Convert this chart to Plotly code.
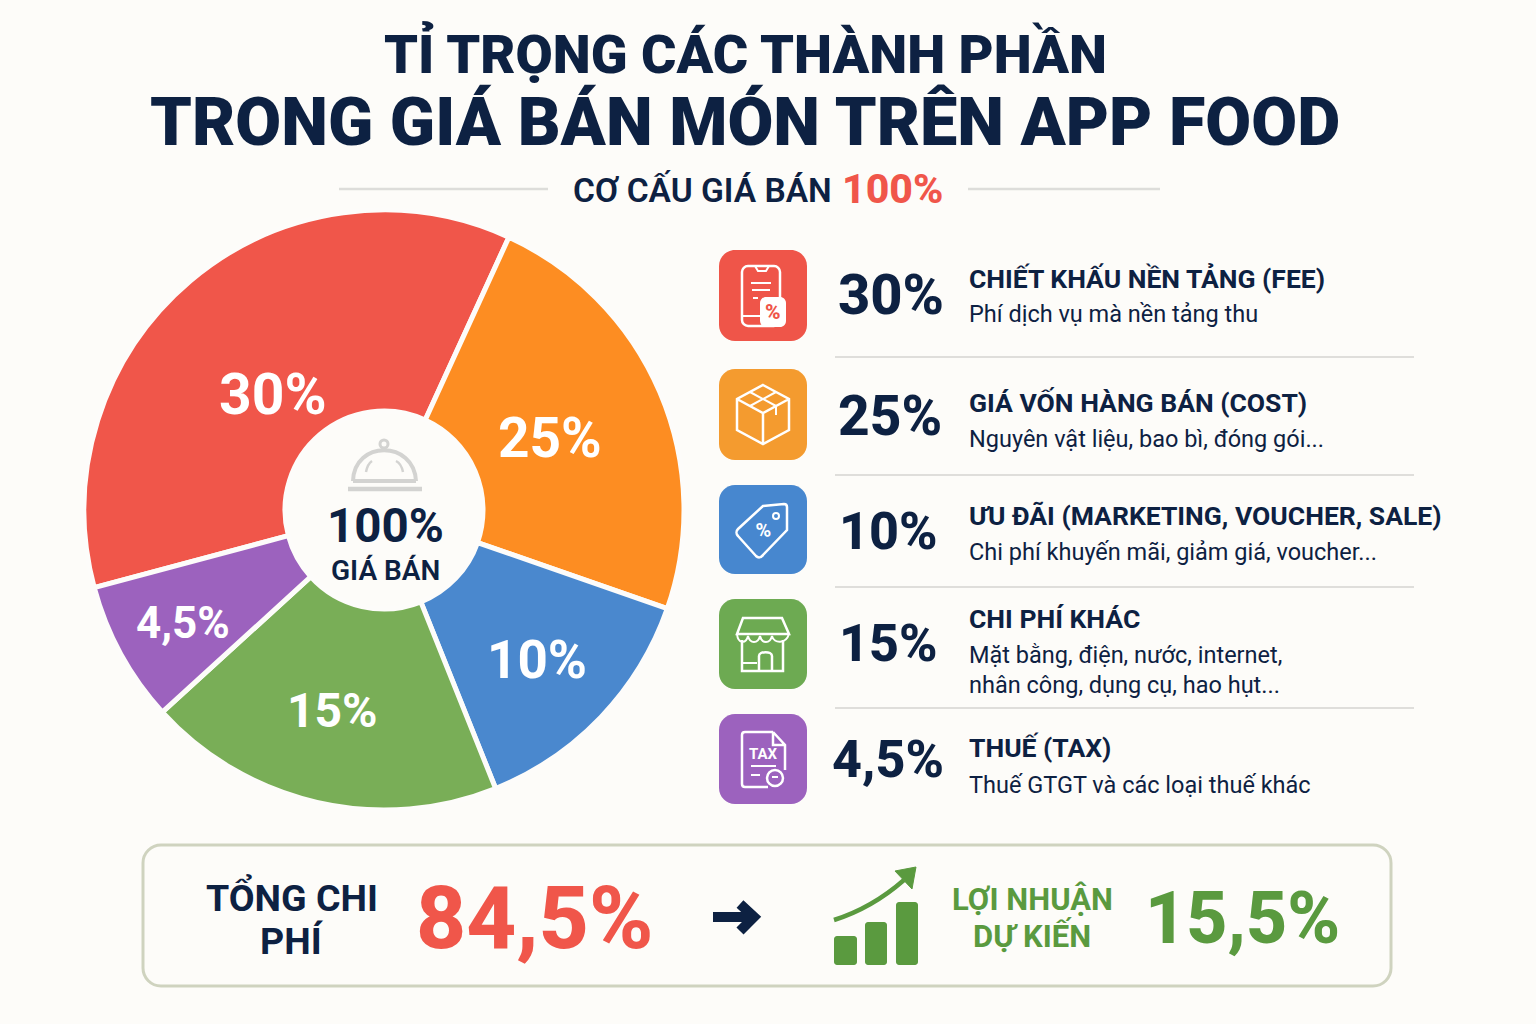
import re
import plotly.graph_objects as go

W, H = 1536, 1024
NAVY = "#0D2142"
RED = "#F0564A"
GREEN = "#5A9A3F"
FONT = "Roboto"

# slice shares as drawn in the picture (the printed labels do not add up to the drawn angles)
slice_labels = ["30%", "25%", "10%", "15%", "4,5%"]
slice_shares = [36.0, 23.5, 13.6, 19.3, 7.6]
slice_colors = ["#F0564A", "#FD8D22", "#4A88CE", "#79AE57", "#9C62BE"]
slice_text_x = [273, 550, 537, 332, 183]
slice_text_y = [394, 438, 660, 710, 623]
slice_text_size = [57, 55, 53, 48, 44]

row_pct = ["30%", "25%", "10%", "15%", "4,5%"]
row_titles = ["CHIẾT KHẤU NỀN TẢNG (FEE)", "GIÁ VỐN HÀNG BÁN (COST)",
              "ƯU ĐÃI (MARKETING, VOUCHER, SALE)", "CHI PHÍ KHÁC", "THUẾ (TAX)"]
row_desc = ["Phí dịch vụ mà nền tảng thu", "Nguyên vật liệu, bao bì, đóng gói...",
            "Chi phí khuyến mãi, giảm giá, voucher...", "Mặt bằng, điện, nước, internet,",
            "Thuế GTGT và các loại thuế khác"]
row_colors = ["#EF5549", "#F49B2F", "#4787CF", "#6DAA52", "#9C62BE"]
row_icon_y = [250, 369, 485, 599, 714]
row_icon_h = [91, 91, 89, 90, 90]
row_pct_x = [891, 890, 888, 888, 888]
row_pct_y = [295, 416, 531, 643, 759]
row_pct_size = [56, 55, 52, 52, 52]
row_title_y = [278, 402, 515, 618, 747]
row_desc_y = [314, 439, 552, 655, 785]
divider_y = [357, 475, 587, 708]


def X(x):
    return x / W


def Y(y):
    return 1 - y / H


def pp(d):
    # pixel path -> paper path, numbers alternate x, y
    state = {"i": 0}

    def conv(m):
        v = float(m.group())
        state["i"] += 1
        return f"{X(v):.5f}" if state["i"] % 2 else f"{Y(v):.5f}"

    return re.sub(r"\d+\.?\d*", conv, d)


def rrect_d(x0, y0, x1, y1, r):
    k = r * 0.45
    return (f"M{x0 + r} {y0} L{x1 - r} {y0} C{x1 - k} {y0} {x1} {y0 + k} {x1} {y0 + r} "
            f"L{x1} {y1 - r} C{x1} {y1 - k} {x1 - k} {y1} {x1 - r} {y1} "
            f"L{x0 + r} {y1} C{x0 + k} {y1} {x0} {y1 - k} {x0} {y1 - r} "
            f"L{x0} {y0 + r} C{x0} {y0 + k} {x0 + k} {y0} {x0 + r} {y0} Z")


shapes = []
annotations = []


def path(d, line=None, width=0, fill=None):
    shapes.append(dict(type="path", xref="paper", yref="paper", path=pp(d),
                       line=dict(color=line or "rgba(0,0,0,0)", width=width),
                       fillcolor=fill or "rgba(0,0,0,0)"))


def circle(cx, cy, r, line=None, width=0, fill=None):
    shapes.append(dict(type="circle", xref="paper", yref="paper",
                       x0=X(cx - r), x1=X(cx + r), y0=Y(cy + r), y1=Y(cy - r),
                       line=dict(color=line or "rgba(0,0,0,0)", width=width),
                       fillcolor=fill or "rgba(0,0,0,0)"))


def text(x, y, s, size, color=NAVY, weight=700, anchor="center", family=FONT, angle=0):
    annotations.append(dict(xref="paper", yref="paper", x=X(x), y=Y(y), text=s, showarrow=False,
                            xanchor=anchor, yanchor="middle", textangle=angle,
                            font=dict(family=family, size=size, color=color, weight=weight)))


# header
text(745, 53, "TỈ TRỌNG CÁC THÀNH PHẦN", 54, weight=900)
text(745, 122, "TRONG GIÁ BÁN MÓN TRÊN APP FOOD", 66.5, weight=900)
text(702, 190, "CƠ CẤU GIÁ BÁN", 33.5, weight=600)
text(892, 189, "100%", 41, color=RED, weight=800)
path("M339 189 L548 189", line="#DDDDDA", width=2.5)
path("M968 189 L1160 189", line="#DDDDDA", width=2.5)

# pie labels and centre
for lab, tx, ty, sz in zip(slice_labels, slice_text_x, slice_text_y, slice_text_size):
    text(tx, ty, lab, sz, color="white", weight=700)
text(385, 526, "100%", 47.5, weight=700)
text(385, 570, "GIÁ BÁN", 28, weight=600)

# cloche
GREY = "#D3D3D1"
circle(384, 444, 4, line=GREY, width=3)
path("M353 481 C354 440 414 440 416 481", line=GREY, width=4)
path("M353 481 L416 481", line=GREY, width=4)
path("M348 489 L422 489", line=GREY, width=4.5)
path("M366 472 C367 467 369 463 372 461", line=GREY, width=2.5)
path("M396 461 C400 463 402 467 403 472", line=GREY, width=2.5)

# right-hand rows
for i in range(5):
    y0, h = row_icon_y[i], row_icon_h[i]
    path(rrect_d(719, y0, 807, y0 + h, 16), fill=row_colors[i])
    text(row_pct_x[i], row_pct_y[i], row_pct[i], row_pct_size[i], weight=800)
    text(967, row_title_y[i], row_titles[i], 26.5, weight=700, anchor="left")
    text(967, row_desc_y[i], row_desc[i], 23.5, weight=400, anchor="left")
text(967, 685, "nhân công, dụng cụ, hao hụt...", 23.5, weight=400, anchor="left")
for dy in divider_y:
    path(f"M835 {dy} L1414 {dy}", line="#D4D4D1", width=1.3)

# phone icon
path(rrect_d(742, 266, 780, 326, 6), line="white", width=2.5)
path("M755 266 L758 271 L766 271 L769 266", line="white", width=2)
path("M751 283 L771 283 M752 290 L770 290 M753 298 L758 298 M743 316 L760 316", line="white", width=2)
path(rrect_d(760, 297, 786, 327, 6), fill="white")
text(773, 312, "%", 21, color="#EF5549", weight=800)

# box icon
path("M763 385 L789 399 L789 430 L763 444 L737 430 L737 399 Z M737 399 L763 413 L789 399 M763 413 L763 444",
     line="white", width=2.5)
path("M750 392 L776 406 M776 392 L750 406 M776 406 L776 415", line="white", width=2)

# tag icon
path("M763 506 L784 504 C786 504 787 505 787 507 L787 530 L763 555 C761 558 758 558 756 556 L738 536 "
     "C736 534 736 531 738 529 Z", line="white", width=2.5)
circle(776, 516, 3, line="white", width=2)
text(763, 530, "%", 20, color="white", weight=700, angle=-8)

# store icon
path("M743 618 L782 618 L789 634 L737 634 Z", line="white", width=2.5)
path("M737 634 C738 644 746 644 748 636 C750 644 758 644 760 636 C762 644 770 644 772 636 C774 644 786 644 789 634",
     line="white", width=2)
path("M742 640 L742 671 L783 671 L783 640", line="white", width=2.5)
path("M759 671 L759 656 C759 651 772 651 772 656 L772 671", line="white", width=2.5)
path("M743 663 L757 663", line="white", width=2)

# tax icon
path("M773 732 L745 732 C743 732 742 733 742 735 L742 784 C742 786 743 787 745 787 L768 787 "
     "M773 732 L785 745 L785 770 M773 732 L773 745 L785 745", line="white", width=2.5)
text(763, 754, "TAX", 15, color="white", weight=700)
path("M751 766 L776 766 M751 775 L760 775", line="white", width=2)
circle(775, 778, 8, line="white", width=2.5)
path("M772 777 L778 777", line="white", width=2)

# bottom box
path(rrect_d(143, 845, 1391, 986, 18), line="#CFD3BF", width=3, fill="rgba(0,0,0,0)")
text(292, 897, "TỔNG CHI", 37.5, weight=700)
text(292, 941, "PHÍ", 37.5, weight=700)
text(534, 918, "84,5%", 87, color=RED, weight=800)
path("M713 917 L752 917 M740 904 L754 917 L740 931", line=NAVY, width=10)
path(rrect_d(834, 936, 857, 965, 3), fill=GREEN)
path(rrect_d(865, 922, 887, 965, 3), fill=GREEN)
path(rrect_d(896, 902, 918, 965, 3), fill=GREEN)
path("M834 920 Q872 908 904 880", line=GREEN, width=4.5)
path("M895 871 L916 867 L912 889 Z", fill=GREEN, line=GREEN, width=1)
text(1032, 899, "LỢI NHUẬN", 31, color=GREEN, weight=700)
text(1032, 936, "DỰ KIẾN", 31, color=GREEN, weight=700)
text(1242, 918, "15,5%", 71.5, color=GREEN, weight=800)

fig = go.Figure(go.Pie(
    labels=slice_labels,
    values=slice_shares,
    sort=False,
    direction="clockwise",
    rotation=255,
    hole=0.33,
    textinfo="none",
    marker=dict(colors=slice_colors, line=dict(color="#FDFCFA", width=5)),
    domain=dict(x=[X(84), X(684)], y=[Y(810), Y(210)]),
    showlegend=False,
))
fig.update_layout(
    width=W, height=H,
    margin=dict(l=0, r=0, t=0, b=0),
    paper_bgcolor="#FDFCF9",
    plot_bgcolor="#FDFCF9",
    shapes=shapes,
    annotations=annotations,
)
fig.write_html("out.html", config={"displayModeBar": False},
               post_script="document.body.style.margin = '0';")
